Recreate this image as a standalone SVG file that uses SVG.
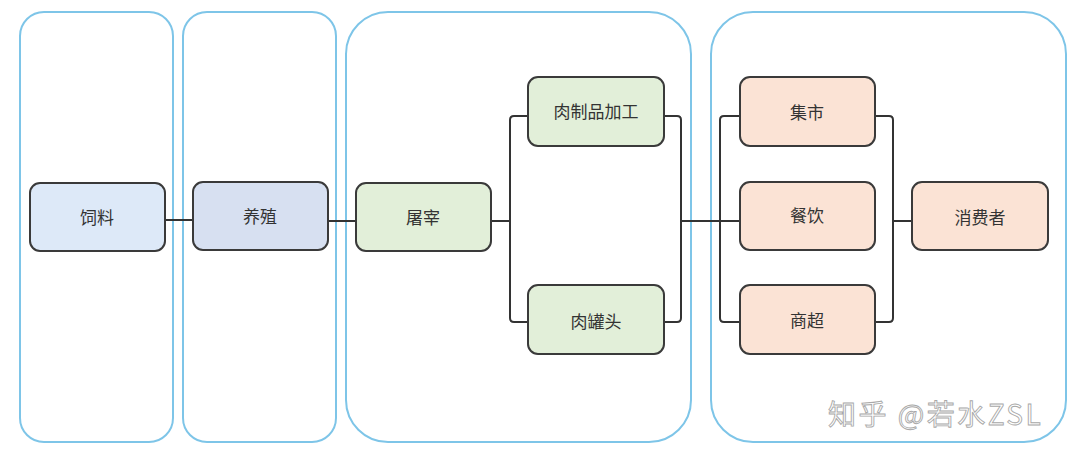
<svg xmlns="http://www.w3.org/2000/svg" width="1080" height="460" viewBox="0 0 1080 460">
<style>
.lane{fill:#fff;stroke:#7ec5e8;stroke-width:2}
.node{stroke:#3a3a3a;stroke-width:2}
.blue1{fill:#dde9f8}
.blue2{fill:#d7e0f1}
.green{fill:#e2efd9}
.peach{fill:#fbe3d5}
.lbl{font-family:"Noto Sans CJK SC","Liberation Sans",sans-serif;font-size:17px;fill:#333;text-anchor:middle;dominant-baseline:central}
.conn{fill:none;stroke:#333;stroke-width:2}
.wm{font-family:"Noto Sans CJK SC","Liberation Sans",sans-serif;font-size:28px;letter-spacing:2.5px;fill:#fff;stroke:#a8a8a8;stroke-width:0.9}
</style>
<rect width="1080" height="460" fill="#fff"/>
<g id="lanes">
<rect id="lane1" class="lane" x="20" y="12" width="153" height="430" rx="24"/>
<rect id="lane2" class="lane" x="183" y="12" width="153" height="430" rx="24"/>
<rect id="lane3" class="lane" x="346" y="12" width="345" height="430" rx="42"/>
<rect id="lane4" class="lane" x="711" y="12" width="355" height="430" rx="42"/>
</g>
<g id="connectors">
<path class="conn" d="M165 220 H193"/>
<path class="conn" d="M328 221 H356"/>
<path class="conn" d="M491 221 H510"/>
<path class="conn" d="M528 116 H514 Q510 116 510 120 V318 Q510 322 514 322 H528"/>
<path class="conn" d="M664 116 H677 Q681 116 681 120 V318 Q681 322 677 322 H664"/>
<path class="conn" d="M681 221 H740"/>
<path class="conn" d="M740 116 H724 Q720 116 720 120 V318 Q720 322 724 322 H740"/>
<path class="conn" d="M875 116 H889 Q893 116 893 120 V318 Q893 322 889 322 H875"/>
<path class="conn" d="M893 221 H912"/>
</g>
<g id="n-siliao"><rect class="node blue1" x="30" y="183" width="135" height="68" rx="10"/><text class="lbl" x="97" y="216">饲料</text></g>
<g id="n-yangzhi"><rect class="node blue2" x="193" y="182" width="135" height="68" rx="10"/><text class="lbl" x="260" y="215">养殖</text></g>
<g id="n-tuzai"><rect class="node green" x="356" y="183" width="135" height="68" rx="10"/><text class="lbl" x="423" y="216">屠宰</text></g>
<g id="n-rouzhipin"><rect class="node green" x="528" y="77" width="136" height="69" rx="10"/><text class="lbl" x="596" y="110">肉制品加工</text></g>
<g id="n-rouguantou"><rect class="node green" x="528" y="285" width="136" height="69" rx="10"/><text class="lbl" x="596" y="320">肉罐头</text></g>
<g id="n-jishi"><rect class="node peach" x="740" y="77" width="135" height="69" rx="10"/><text class="lbl" x="807" y="111">集市</text></g>
<g id="n-canyin"><rect class="node peach" x="740" y="182" width="135" height="68" rx="10"/><text class="lbl" x="807" y="214">餐饮</text></g>
<g id="n-shangchao"><rect class="node peach" x="740" y="285" width="135" height="69" rx="10"/><text class="lbl" x="807" y="319">商超</text></g>
<g id="n-xiaofeizhe"><rect class="node peach" x="912" y="182" width="136" height="68" rx="10"/><text class="lbl" x="980" y="216">消费者</text></g>
<text class="wm" x="828" y="425">知乎 @若水ZSL</text>
</svg>
